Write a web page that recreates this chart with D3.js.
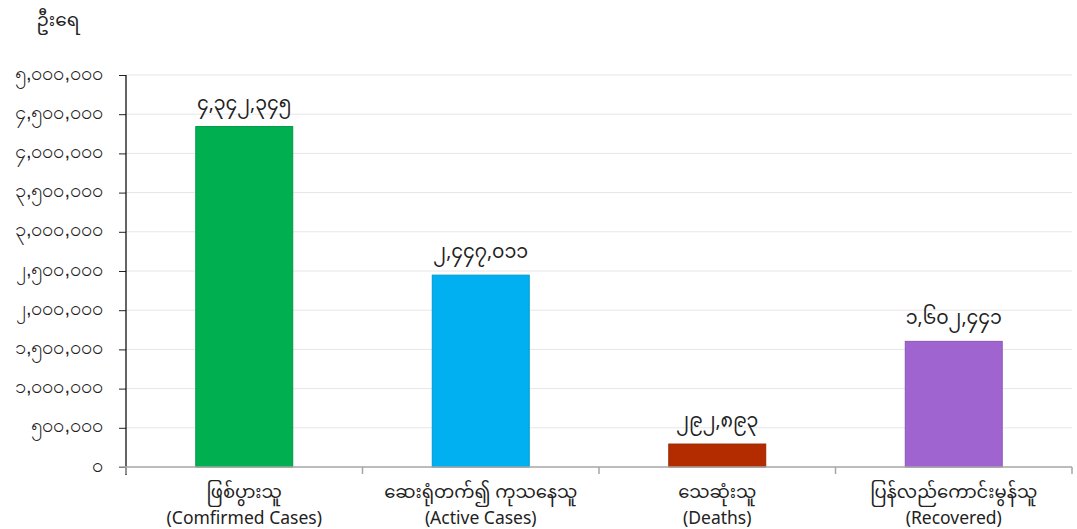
<!DOCTYPE html>
<html>
<head>
<meta charset="utf-8">
<script src="https://cdn.jsdelivr.net/npm/d3@7"></script>
<style>
  html, body { margin: 0; padding: 0; background: #fff; }
  svg { display: block; font-family: "Noto Sans", "Noto Sans Myanmar", "Open Sans", sans-serif; }
</style>
</head>
<body>
<svg id="chart" width="1077" height="529"></svg>
<script>
const categoriesMy = ["ဖြစ်ပွားသူ", "ဆေးရုံတက်၍ ကုသနေသူ", "သေဆုံးသူ", "ပြန်လည်ကောင်းမွန်သူ"];
const categoriesEn = ["(Comfirmed Cases)", "(Active Cases)", "(Deaths)", "(Recovered)"];
const values = [4342345, 2447011, 292893, 1602441];
const valueLabels = ["၄,၃၄၂,၃၄၅", "၂,၄၄၇,၀၁၁", "၂၉၂,၈၉၃", "၁,၆၀၂,၄၄၁"];
const barColors = ["#00b050", "#00b0f0", "#b22c00", "#a064d0"];
const tickValues = [0, 500000, 1000000, 1500000, 2000000, 2500000, 3000000, 3500000, 4000000, 4500000, 5000000];
const tickLabels = ["၀", "၅၀၀,၀၀၀", "၁,၀၀၀,၀၀၀", "၁,၅၀၀,၀၀၀", "၂,၀၀၀,၀၀၀", "၂,၅၀၀,၀၀၀", "၃,၀၀၀,၀၀၀", "၃,၅၀၀,၀၀၀", "၄,၀၀၀,၀၀၀", "၄,၅၀၀,၀၀၀", "၅,၀၀၀,၀၀၀"];
const yTitle = "ဦးရေ";

(function () {
const svg = d3.select("#chart");
const pLeft = 126, pRight = 1072, pTop = 75, pBottom = 467;

const x = d3.scaleBand().domain(d3.range(values.length)).range([pLeft, pRight]).paddingInner(0.59).paddingOuter(0.295);
const xb = d3.scaleBand().domain(d3.range(values.length)).range([pLeft, pRight]);
const y = d3.scaleLinear().domain([0, 5000000]).range([pBottom, pTop]);

// gridlines
svg.append("g").selectAll("line").data(tickValues.slice(1)).join("line")
  .attr("x1", pLeft).attr("x2", pRight)
  .attr("y1", d => y(d)).attr("y2", d => y(d))
  .attr("stroke", "#e6e6e6").attr("stroke-width", 1);

// y axis
const yAxis = d3.axisLeft(y).tickValues(tickValues).tickSize(7).tickPadding(16)
  .tickFormat((d, i) => tickLabels[i]);
const gy = svg.append("g").attr("transform", `translate(${pLeft},0)`).call(yAxis);
gy.select(".domain").remove();
gy.selectAll(".tick line").attr("stroke", "#222");
gy.selectAll(".tick text").attr("fill", "#222").style("font-size", "20px").attr("dy", "0.2em");
svg.append("line").attr("x1", pLeft).attr("x2", pLeft).attr("y1", pTop).attr("y2", pBottom + 8)
  .attr("stroke", "#111").attr("stroke-width", 1.3);

// bars
svg.append("g").selectAll("rect").data(values).join("rect")
  .attr("x", (d, i) => x(i)).attr("width", x.bandwidth())
  .attr("y", d => y(d)).attr("height", d => pBottom - y(d))
  .attr("fill", (d, i) => barColors[i])
  .attr("stroke", (d, i) => d3.color(barColors[i]).darker(0.4))
  .attr("stroke-width", 1);

// x axis
svg.append("line").attr("x1", pLeft - 7).attr("x2", pRight).attr("y1", pBottom).attr("y2", pBottom)
  .attr("stroke", "#a6a6a6").attr("stroke-width", 1.5);
const bounds = d3.range(values.length + 1).map(i => i < values.length ? xb(i) : pRight);
svg.append("g").selectAll("line").data(bounds).join("line")
  .attr("x1", d => d).attr("x2", d => d).attr("y1", pBottom).attr("y2", pBottom + 7)
  .attr("stroke", "#a6a6a6").attr("stroke-width", 1.5);

// value labels
svg.append("g").selectAll("text").data(values).join("text")
  .attr("x", (d, i) => x(i) + x.bandwidth() / 2)
  .attr("y", d => y(d) - 17)
  .attr("text-anchor", "middle").attr("fill", "#222").style("font-size", "19px")
  .text((d, i) => valueLabels[i]);

// category labels
const cat = svg.append("g").selectAll("g").data(categoriesMy).join("g")
  .attr("transform", (d, i) => `translate(${xb(i) + xb.bandwidth() / 2},0)`);
cat.append("text").attr("y", 498).attr("text-anchor", "middle").attr("fill", "#222")
  .style("font-size", "18px").text(d => d);
cat.append("text").attr("y", 524).attr("text-anchor", "middle").attr("fill", "#222")
  .style("font-size", "17.5px").text((d, i) => categoriesEn[i]);

// y title
svg.append("text").attr("x", 58).attr("y", 26).attr("text-anchor", "middle").attr("fill", "#222")
  .style("font-size", "18.5px").text(yTitle);
})();
</script>
</body>
</html>
